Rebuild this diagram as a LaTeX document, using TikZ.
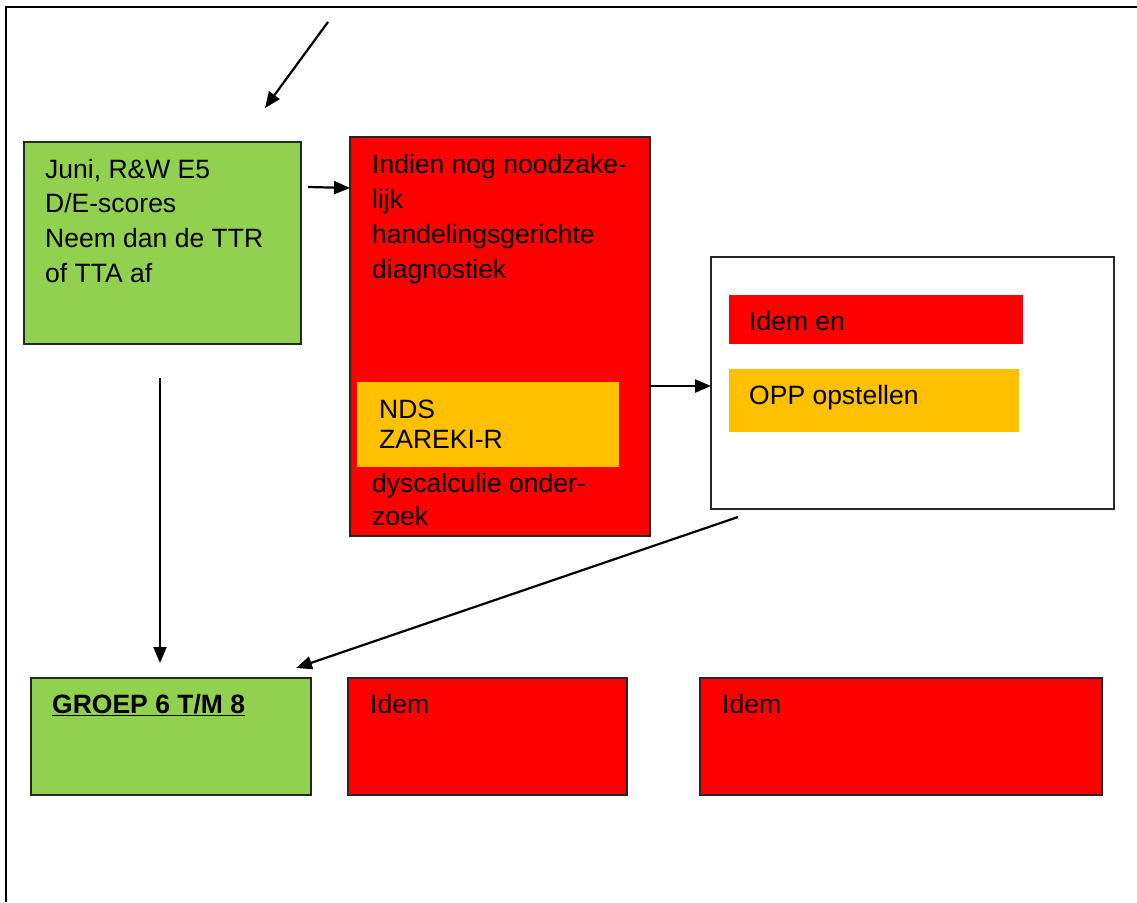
\documentclass[tikz,border=0pt]{standalone}
\usepackage{fontspec}
\setmainfont{Liberation Sans}
\usetikzlibrary{arrows.meta}
\definecolor{lgreen}{HTML}{92D050}
\definecolor{bred}{HTML}{FF0000}
\definecolor{amber}{HTML}{FFC000}
\begin{document}
\begin{tikzpicture}[x=1pt,y=-1pt,
  box/.style={draw=black!85,line width=1.5pt,inner sep=0pt,outer sep=0pt,anchor=north west},
  band/.style={inner sep=0pt,outer sep=0pt,anchor=north west},
  txt/.style={inner sep=0pt,anchor=base west,font=\fontsize{26.5}{35}\selectfont},
  arr/.style={line width=2.2pt,-{Triangle[length=16pt,width=13pt]}}]
\useasboundingbox (0,0) rectangle (1137,902);
% page frame
\draw[line width=2.4pt] (6,902) -- (6,7) -- (1137,7);

% first row
\node[box,fill=lgreen,minimum width=277pt,minimum height=202pt] (g1) at (24,142) {};
\node[txt] (g1a) at (45,178) {Juni, R\&W E5};
\node[txt] (g1b) at (45,212) {D/E-scores};
\node[txt] (g1c) at (45,247) {Neem dan de TTR};
\node[txt] (g1d) at (45,282) {of TTA af};

\node[box,fill=bred,minimum width=300pt,minimum height=399pt] (red) at (350,137) {};
\node[band,fill=amber,minimum width=262pt,minimum height=85pt] (nds) at (357,382) {};
\begin{scope}
  \clip (350,137) rectangle (650,524);
  \node[txt] (r1) at (372,173) {Indien nog noodzake-};
  \node[txt] (r2) at (372,208) {lijk};
  \node[txt] (r3) at (372,243) {handelingsgerichte};
  \node[txt] (r4) at (372,278) {diagnostiek};
  \node[txt] (n1) at (379,418) {NDS};
  \node[txt] (n2) at (379,448) {ZAREKI-R};
  \node[txt] (r5) at (372,492) {dyscalculie onder-};
  \node[txt] (r6) at (372,525) {zoek};
\end{scope}

\node[box,fill=white,minimum width=403pt,minimum height=252pt] (white) at (711,257) {};
\node[band,fill=bred,minimum width=294pt,minimum height=49pt] (idemen) at (729,295) {};
\node[txt] (t1) at (749,330) {Idem en};
\node[band,fill=amber,minimum width=290pt,minimum height=63pt] (opp) at (729,369) {};
\node[txt] (t2) at (749,404) {OPP opstellen};

% bottom row
\node[box,fill=lgreen,minimum width=280pt,minimum height=117pt] (g2) at (31,678) {};
\node[txt,font=\fontsize{26.5}{35}\selectfont\bfseries] (g2t) at (52,713) {\underline{GROEP 6 T/M 8}};
\node[box,fill=bred,minimum width=279pt,minimum height=117pt] (b2) at (348,678) {};
\node[txt] (b2t) at (370,713) {Idem};
\node[box,fill=bred,minimum width=402pt,minimum height=117pt] (b3) at (700,678) {};
\node[txt] (b3t) at (722,713) {Idem};

% connectors
\coordinate (src) at (328,22);
\draw[arr] (src) -- ([shift={(102.5,-34)}]g1.north);
\draw[arr] ([shift={(7,-56)}]g1.east) -- ([shift={(0,-148.5)}]red.west);
\draw[arr] ([shift={(0,49.5)}]red.east) -- ([shift={(0,3)}]white.west);
\draw[arr] ([shift={(-174.5,8)}]white.south) -- ([shift={(-15,-10)}]g2.north east);
\draw[arr] ([shift={(-2.5,34)}]g1.south) -- ([shift={(-11,-15)}]g2.north);
\end{tikzpicture}
\end{document}
